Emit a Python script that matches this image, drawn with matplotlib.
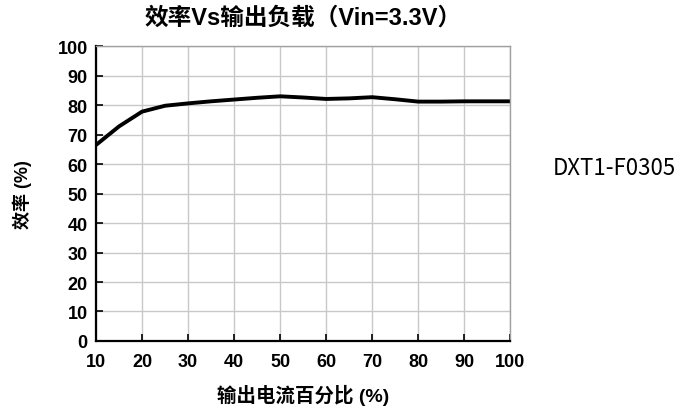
import numpy as np
import matplotlib
matplotlib.use('Agg')
import matplotlib.pyplot as plt

plt.rcParams['font.family'] = ['Liberation Sans', 'Noto Sans CJK SC', 'DejaVu Sans']

# efficiency curve
load_pct = [10, 15, 20, 25, 30, 35, 40, 45, 50, 55, 60, 65, 70, 75, 80, 85, 90, 95, 100]
eff_pct = [66.5, 72.8, 77.8, 79.8, 80.6, 81.3, 81.9, 82.5, 83.0, 82.6, 82.1, 82.3, 82.7, 82.0, 81.2, 81.2, 81.3, 81.3, 81.3]

xticks = [10, 20, 30, 40, 50, 60, 70, 80, 90, 100]
yticks = [0, 10, 20, 30, 40, 50, 60, 70, 80, 90, 100]

cjk = ['Liberation Sans', 'Noto Sans CJK SC', 'DejaVu Sans']

fig = plt.figure(figsize=(6.96, 4.14), dpi=100)
ax = fig.add_axes([0.138, 0.174, 0.595, 0.712])

ax.plot(load_pct, eff_pct, color='black', lw=2.8, solid_capstyle='butt')

ax.set_xlim(10, 100)
ax.set_ylim(0, 100)
ax.set_xticks(xticks)
ax.set_yticks(yticks)
ax.grid(True, color='#c8c8c8', lw=1.0)
ax.set_axisbelow(True)

for s in ['top', 'right']:
    ax.spines[s].set_color('#a0a0a0')
    ax.spines[s].set_linewidth(1.0)
for s in ['left', 'bottom']:
    ax.spines[s].set_color('black')
    ax.spines[s].set_linewidth(1.6)

ax.tick_params(direction='in', length=5, width=1.2, colors='black', labelsize=13, pad=6)
ax.tick_params(axis='x', pad=9)
for lab in ax.get_xticklabels() + ax.get_yticklabels():
    lab.set_fontweight('bold')

ax.set_title('效率Vs输出负载（Vin=3.3V）', fontsize=17, fontweight='bold', family=cjk, pad=16)
ax.set_xlabel('输出电流百分比 (%)', fontsize=14, fontweight='bold', family=cjk, labelpad=10)
ax.set_ylabel('效率 (%)', fontsize=13, fontweight='bold', family=cjk, labelpad=18)

fig.text(0.794, 0.594, 'DXT1-F0305', fontsize=16, family=['Noto Sans CJK SC', 'DejaVu Sans'],
         va='center', ha='left')

fig.savefig('out.png', dpi=100)
